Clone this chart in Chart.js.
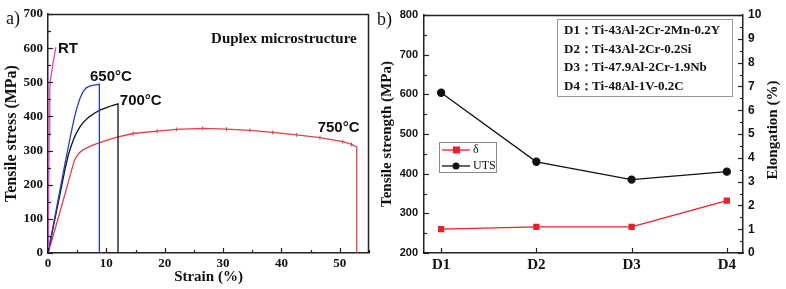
<!DOCTYPE html>
<html>
<head>
<meta charset="utf-8">
<script src="https://cdn.jsdelivr.net/npm/chart.js@4.4.1/dist/chart.umd.min.js"></script>
<style>
  body { margin: 0; background: #fff; width: 786px; height: 289px; position: relative; overflow: hidden; }
  #chartA { position: absolute; left: 0; top: 0; }
  #chartB { position: absolute; left: 376px; top: 0; }
</style>
</head>
<body>
<canvas id="chartA" width="376" height="289"></canvas>
<canvas id="chartB" width="410" height="289"></canvas>
<script>
// ---- panel a: stress-strain curves ----
const rtStrain = [0, 0.1, 0.2, 0.3, 0.4, 0.9, 1.35];
const rtStress = [0, 150, 350, 480, 505, 560, 603];

const s650Strain = [0, 1, 2, 3, 4, 4.5, 5, 5.5, 6, 6.5, 7, 7.8, 8.8, 8.8];
const s650Stress = [0, 90, 180, 270, 355, 395, 428, 454, 472, 483, 488, 492, 494, 0];

const s700Strain = [0, 1, 2, 3, 3.5, 4, 4.5, 5, 5.5, 6, 7, 8, 9, 10, 11, 12, 12];
const s700Stress = [0, 84, 168, 252, 288, 315, 338, 356, 370, 382, 398, 410, 419, 426, 432, 437, 0];

const s750Strain = [0, 1, 2, 3, 4, 4.5, 5, 5.5, 6, 7, 8, 9, 10, 12, 14.6, 18.7, 22, 26.5, 30.6, 34.6, 38.5, 42.6, 46.6, 50.5, 52, 52.9, 52.9];
const s750Stress = [0, 57, 117, 178, 240, 270, 286, 295, 302, 311, 318, 324, 330, 340, 350, 357, 362, 365, 363, 359, 353, 346, 338, 326, 318, 311, 0];

const strainTicks = [0, 10, 20, 30, 40, 50];
const stressTicks = [0, 100, 200, 300, 400, 500, 600, 700];

// ---- panel b: alloys ----
const alloys = ['D1', 'D2', 'D3', 'D4'];
const alloyNames = ['Ti-43Al-2Cr-2Mn-0.2Y', 'Ti-43Al-2Cr-0.2Si', 'Ti-47.9Al-2Cr-1.9Nb', 'Ti-48Al-1V-0.2C'];
const uts = [604, 430, 385, 405];
const elong = [1.0, 1.1, 1.1, 2.2];
const utsTicks = [200, 300, 400, 500, 600, 700, 800];
const elongTicks = [0, 1, 2, 3, 4, 5, 6, 7, 8, 9, 10];

const SERIF = '"Liberation Serif", "Times New Roman", serif';
const SANS = '"Liberation Sans", Arial, sans-serif';
const AXIS = '#222';

const pts = (xs, ys) => xs.map((x, i) => ({ x: x, y: ys[i] }));
const mids = arr => arr.slice(0, -1).map((v, i) => (v + arr[i + 1]) / 2);
const fixTicks = vals => s => { s.ticks = vals.map(v => ({ value: v })); };

// ticks pointing into the plot, plus the frame lines
function frame(axes, box) {
  return {
    id: 'frame',
    afterDraw(chart) {
      const ctx = chart.ctx;
      const a = chart.chartArea;
      ctx.save();
      ctx.strokeStyle = AXIS;
      ctx.lineWidth = 1.2;
      for (const id in axes) {
        const s = chart.scales[id];
        const draw = (vals, len) => vals.forEach(v => {
          const p = Math.round(s.getPixelForValue(v)) + 0.5;
          ctx.beginPath();
          if (s.position === 'bottom') { ctx.moveTo(p, a.bottom); ctx.lineTo(p, a.bottom - len); }
          else if (s.position === 'left') { ctx.moveTo(a.left, p); ctx.lineTo(a.left + len, p); }
          else { ctx.moveTo(a.right, p); ctx.lineTo(a.right - len, p); }
          ctx.stroke();
        });
        draw(axes[id].major, 5);
        draw(axes[id].minor || [], 3);
      }
      ctx.lineWidth = 1.5;
      ctx.beginPath();
      ctx.moveTo(a.left, a.top + 0.5); ctx.lineTo(a.right, a.top + 0.5);
      if (box.right) { ctx.moveTo(a.right - 0.5, a.top); ctx.lineTo(a.right - 0.5, a.bottom); }
      ctx.stroke();
      ctx.restore();
    }
  };
}

const notesA = {
  id: 'notesA',
  afterDraw(chart) {
    const ctx = chart.ctx, x = chart.scales.x, y = chart.scales.y;
    ctx.save();
    ctx.fillStyle = '#111';
    ctx.textBaseline = 'middle';
    ctx.font = '18px ' + SERIF;
    ctx.fillText('a)', 6, 19);
    ctx.font = 'bold 15px ' + SERIF;
    ctx.textAlign = 'right';
    ctx.fillText('Duplex microstructure', x.getPixelForValue(52.9), y.getPixelForValue(627));
    ctx.textAlign = 'left';
    ctx.font = 'bold 15px ' + SANS;
    ctx.fillText('RT', x.getPixelForValue(1.7), y.getPixelForValue(597));
    ctx.fillText('650°C', x.getPixelForValue(7.2), y.getPixelForValue(515));
    ctx.fillText('700°C', x.getPixelForValue(12.3), y.getPixelForValue(445));
    ctx.fillText('750°C', x.getPixelForValue(46.2), y.getPixelForValue(366));
    ctx.restore();
  }
};

new Chart(document.getElementById('chartA'), {
  type: 'line',
  data: {
    datasets: [
      { label: 'RT', data: pts(rtStrain, rtStress), borderColor: '#e040c8', borderWidth: 1.3, pointRadius: 0 },
      { label: '650', data: pts(s650Strain, s650Stress), borderColor: '#2a3cc0', borderWidth: 1.3, pointRadius: 0 },
      { label: '700', data: pts(s700Strain, s700Stress), borderColor: '#111', borderWidth: 1.3, pointRadius: 0 },
      { label: '750', data: pts(s750Strain, s750Stress), borderColor: '#e0404a', borderWidth: 1.3,
        pointStyle: 'line', pointRotation: 90, pointBorderWidth: 1,
        pointRadius: c => (c.raw && c.raw.x >= 14 && c.raw.y > 0 && c.raw.x < 52.5) ? 2 : 0 }
    ]
  },
  options: {
    responsive: false,
    animation: false,
    devicePixelRatio: 1,
    layout: { padding: { left: 0, right: 7, top: 14, bottom: 0 } },
    plugins: { legend: { display: false }, tooltip: { enabled: false } },
    scales: {
      x: {
        type: 'linear', min: 0, max: 55,
        afterBuildTicks: fixTicks(strainTicks),
        afterFit: s => { s.height = 36; },
        grid: { display: false, drawTicks: false },
        border: { display: true, color: AXIS, width: 1.5 },
        ticks: { font: { family: SERIF, weight: 'bold', size: 13 }, color: '#111', padding: 3 },
        title: { display: true, text: 'Strain (%)', color: '#111', font: { family: SERIF, weight: 'bold', size: 15 }, padding: { top: 0, bottom: 3 } }
      },
      y: {
        type: 'linear', min: 0, max: 700,
        afterBuildTicks: fixTicks(stressTicks),
        afterFit: s => { s.width = 48; },
        grid: { display: false, drawTicks: false },
        border: { display: true, color: AXIS, width: 1.5 },
        ticks: { font: { family: SERIF, weight: 'bold', size: 13 }, color: '#111', padding: 5 },
        title: { display: true, text: 'Tensile stress (MPa)', color: '#111', font: { family: SERIF, weight: 'bold', size: 16 }, padding: { top: 2, bottom: 0 } }
      }
    }
  },
  plugins: [
    frame({ x: { major: strainTicks, minor: [5, 15, 25, 35, 45, 55] }, y: { major: stressTicks, minor: mids(stressTicks) } }, { right: true }),
    notesA
  ]
});

const notesB = {
  id: 'notesB',
  afterDraw(chart) {
    const ctx = chart.ctx;
    const ds = chart.data.datasets;
    ctx.save();
    ctx.fillStyle = '#111';
    ctx.textBaseline = 'middle';
    ctx.font = '18px ' + SERIF;
    ctx.fillText('b)', 1, 20);

    // right axis title, reading bottom to top
    ctx.save();
    ctx.translate(397, 130);
    ctx.rotate(-Math.PI / 2);
    ctx.textAlign = 'center';
    ctx.font = 'bold 15px ' + SERIF;
    ctx.fillText('Elongation (%)', 0, 0);
    ctx.restore();

    // alloy key
    ctx.strokeStyle = '#999';
    ctx.lineWidth = 1;
    ctx.strokeRect(181.5, 19.5, 175, 77);
    ctx.font = 'bold 13px ' + SERIF;
    alloys.forEach((d, i) => {
      const yy = 31 + i * 18.5;
      ctx.fillText(d + '：', 188, yy);
      ctx.fillText(alloyNames[i], 216, yy);
    });

    // series legend
    ctx.strokeStyle = '#888';
    ctx.strokeRect(63.5, 142.5, 57, 30);
    [ds[0], ds[1]].forEach((d, i) => {
      const yy = 150 + i * 16;
      ctx.strokeStyle = d.borderColor;
      ctx.lineWidth = 1.3;
      ctx.beginPath(); ctx.moveTo(66, yy); ctx.lineTo(94, yy); ctx.stroke();
      ctx.fillStyle = d.borderColor;
      if (d.pointStyle === 'rect') ctx.fillRect(77, yy - 3.5, 7, 7);
      else { ctx.beginPath(); ctx.arc(80, yy, 3.5, 0, Math.PI * 2); ctx.fill(); }
      ctx.fillStyle = '#111';
      ctx.font = '12px ' + SERIF;
      ctx.fillText(d.label, 97, yy);
    });
    ctx.restore();
  }
};

new Chart(document.getElementById('chartB'), {
  type: 'line',
  data: {
    datasets: [
      { label: 'δ', data: pts([1, 2, 3, 4], elong), yAxisID: 'y1', borderColor: '#e8202a', backgroundColor: '#e8202a',
        borderWidth: 1.3, pointStyle: 'rect', pointRadius: 3.5 },
      { label: 'UTS', data: pts([1, 2, 3, 4], uts), yAxisID: 'y', borderColor: '#111', backgroundColor: '#111',
        borderWidth: 1.3, pointStyle: 'circle', pointRadius: 3.5 }
    ]
  },
  options: {
    responsive: false,
    animation: false,
    devicePixelRatio: 1,
    layout: { padding: { left: 0, right: 0, top: 15, bottom: 0 } },
    plugins: { legend: { display: false }, tooltip: { enabled: false } },
    scales: {
      x: {
        type: 'linear', min: 0.82, max: 4.17,
        afterBuildTicks: fixTicks([1, 2, 3, 4]),
        afterFit: s => { s.height = 36; },
        grid: { display: false, drawTicks: false },
        border: { display: true, color: AXIS, width: 1.5 },
        ticks: { font: { family: SERIF, weight: 'bold', size: 15 }, color: '#111', padding: 3, callback: v => alloys[v - 1] }
      },
      y: {
        type: 'linear', position: 'left', min: 200, max: 800,
        afterBuildTicks: fixTicks(utsTicks),
        afterFit: s => { s.width = 48; },
        grid: { display: false, drawTicks: false },
        border: { display: true, color: AXIS, width: 1.5 },
        ticks: { font: { family: SANS, weight: 'bold', size: 11 }, color: '#111', padding: 6 },
        title: { display: true, text: 'Tensile strength (MPa)', color: '#111', font: { family: SERIF, weight: 'bold', size: 15 }, padding: { top: 2, bottom: 0 } }
      },
      y1: {
        type: 'linear', position: 'right', min: 0, max: 10,
        afterBuildTicks: fixTicks(elongTicks),
        afterFit: s => { s.width = 43; },
        grid: { display: false, drawTicks: false },
        border: { display: true, color: AXIS, width: 1.5 },
        ticks: { font: { family: SANS, weight: 'bold', size: 12 }, color: '#111', padding: 5 }
      }
    }
  },
  plugins: [
    frame({ x: { major: [1, 2, 3, 4] }, y: { major: utsTicks, minor: mids(utsTicks) }, y1: { major: elongTicks, minor: mids(elongTicks) } }, { right: false }),
    notesB
  ]
});
</script>
</body>
</html>
